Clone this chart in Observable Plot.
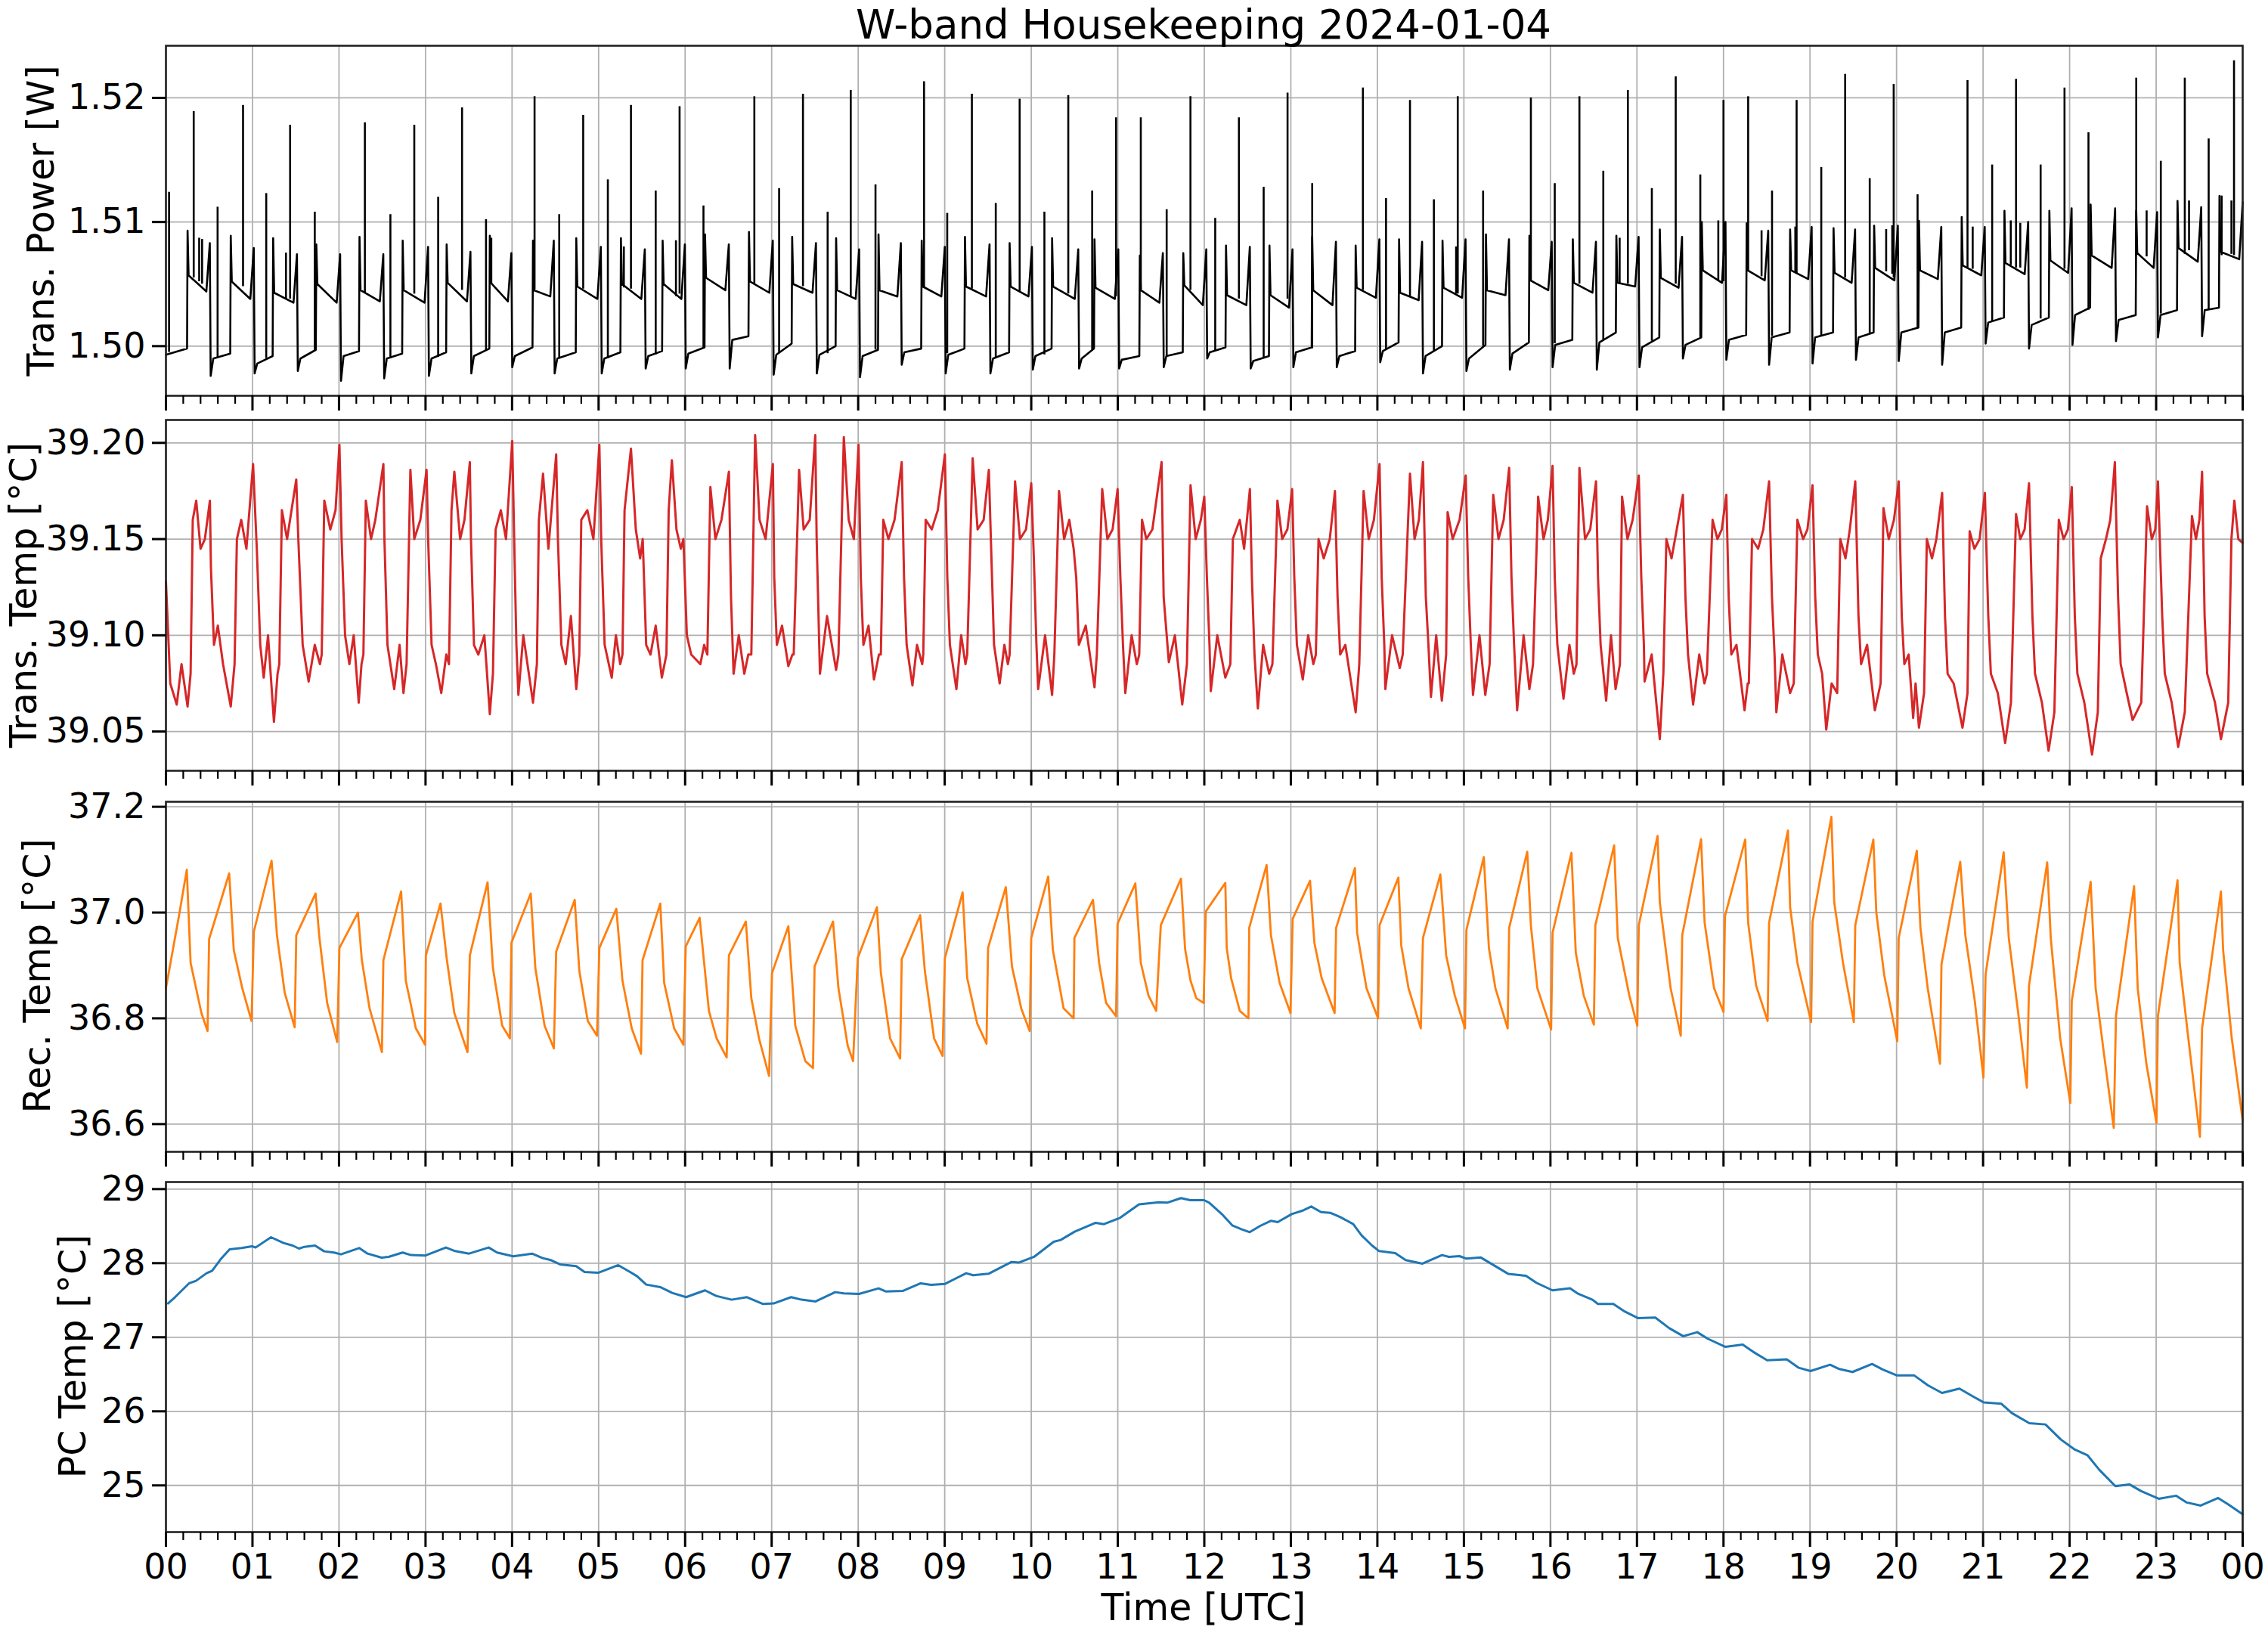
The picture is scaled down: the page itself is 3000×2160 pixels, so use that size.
<!DOCTYPE html>
<html><head><meta charset="utf-8">
<script src="https://cdn.jsdelivr.net/npm/d3@7"></script>
<script src="https://cdn.jsdelivr.net/npm/@observablehq/plot@0.6"></script>
<style>
html,body{margin:0;padding:0;background:#fff;}
#fig{position:relative;width:3000px;height:2160px;background:#fff;overflow:hidden;}
#fig svg{position:absolute;left:0;}
</style></head><body><div id="fig"></div>
<script>
// ---------- axis ticks ----------
const xTickValues = [0,1,2,3,4,5,6,7,8,9,10,11,12,13,14,15,16,17,18,19,20,21,22,23,24];
const xTickLabels = ["00","01","02","03","04","05","06","07","08","09","10","11","12","13","14","15","16","17","18","19","20","21","22","23","00"];
const xMinorStep = 0.2;
const pwTicks = [1.50, 1.51, 1.52], pwTickLabels = ["1.50","1.51","1.52"];
const ttTicks = [39.05, 39.10, 39.15, 39.20], ttTickLabels = ["39.05","39.10","39.15","39.20"];
const rtTicks = [36.6, 36.8, 37.0, 37.2], rtTickLabels = ["36.6","36.8","37.0","37.2"];
const pcTicks = [25, 26, 27, 28, 29], pcTickLabels = ["25","26","27","28","29"];

// ---------- Trans. Power [W] : per-cycle levels ----------
const pwStartV = 1.4993, pwEndV = 1.5116;
const pwStepT = [0.250,0.749,1.239,1.738,2.237,2.736,3.244,3.743,4.242,4.742,5.258,5.740,6.230,6.738,7.237,7.745,8.235,8.734,9.234,9.750,10.241,10.731,11.255,11.757,12.251,12.753,13.247,13.749,14.251,14.753,15.255,15.757,16.259,16.762,17.264,17.749,18.268,18.770,19.272,19.741,20.259,20.753,21.247,21.766,22.243,22.770,23.247,23.732];
const pwStepV = [1.5093,1.5089,1.5087,1.5082,1.5088,1.5085,1.5082,1.5089,1.5085,1.5087,1.5087,1.5085,1.5090,1.5092,1.5088,1.5087,1.5090,1.5085,1.5088,1.5083,1.5087,1.5086,1.5073,1.5075,1.5081,1.5081,1.5088,1.5081,1.5086,1.5085,1.5090,1.5089,1.5086,1.5089,1.5094,1.5100,1.5099,1.5094,1.5095,1.5097,1.5101,1.5104,1.5109,1.5109,1.5114,1.5109,1.5117,1.5121];
const pwPlatA = [1.5057,1.5052,1.5043,1.5050,1.5045,1.5045,1.5051,1.5051,1.5045,1.5048,1.5050,1.5050,1.5055,1.5052,1.5050,1.5045,1.5045,1.5048,1.5048,1.5048,1.5048,1.5047,1.5045,1.5049,1.5041,1.5041,1.5045,1.5047,1.5043,1.5047,1.5045,1.5053,1.5051,1.5051,1.5055,1.5061,1.5061,1.5061,1.5059,1.5063,1.5061,1.5065,1.5067,1.5069,1.5073,1.5075,1.5079,1.5076];
const pwPlatB = [1.5044,1.5038,1.5035,1.5035,1.5036,1.5035,1.5036,1.5036,1.5040,1.5038,1.5038,1.5038,1.5045,1.5043,1.5043,1.5038,1.5040,1.5040,1.5040,1.5040,1.5038,1.5038,1.5035,1.5033,1.5033,1.5031,1.5033,1.5039,1.5037,1.5039,1.5041,1.5045,1.5043,1.5048,1.5047,1.5051,1.5053,1.5054,1.5051,1.5053,1.5054,1.5057,1.5058,1.5059,1.5063,1.5063,1.5068,1.5070];
const pwDropT = [0.517,1.025,1.524,2.023,2.522,3.039,3.529,4.002,4.492,5.036,5.544,6.007,6.515,7.023,7.522,8.021,8.503,9.011,9.528,10.018,10.553,11.016,11.531,12.033,12.536,13.029,13.531,14.033,14.527,15.029,15.531,16.025,16.536,17.029,17.531,18.033,18.527,19.029,19.531,20.025,20.527,21.029,21.531,22.033,22.536,23.021,23.531];
const pwRampV = [1.5083,1.5079,1.5074,1.5074,1.5074,1.5080,1.5076,1.5075,1.5085,1.5080,1.5078,1.5082,1.5082,1.5085,1.5083,1.5078,1.5083,1.5080,1.5082,1.5080,1.5078,1.5078,1.5075,1.5078,1.5080,1.5078,1.5084,1.5086,1.5084,1.5086,1.5086,1.5084,1.5084,1.5088,1.5088,1.5100,1.5093,1.5096,1.5094,1.5097,1.5096,1.5096,1.5100,1.5111,1.5111,1.5108,1.5112];
const pwDipV = [1.4976,1.4978,1.4980,1.4972,1.4974,1.4976,1.4978,1.4983,1.4978,1.4978,1.4982,1.4982,1.4982,1.4977,1.4978,1.4975,1.4985,1.4978,1.4978,1.4981,1.4982,1.4982,1.4983,1.4990,1.4982,1.4983,1.4983,1.4987,1.4978,1.4980,1.4981,1.4983,1.4981,1.4983,1.4990,1.4989,1.4985,1.4986,1.4989,1.4988,1.4985,1.5002,1.4998,1.5001,1.5004,1.5007,1.5008];
const pwLowA = [1.4990,1.4986,1.4990,1.4992,1.4990,1.4990,1.4992,1.4992,1.4990,1.4990,1.4992,1.4994,1.5005,1.4993,1.4993,1.4992,1.4995,1.4993,1.4990,1.4992,1.4990,1.4989,1.4992,1.4995,1.4988,1.4995,1.4992,1.4996,1.4992,1.4990,1.4994,1.5001,1.5003,1.4999,1.5001,1.5005,1.5007,1.5007,1.5007,1.5011,1.5011,1.5019,1.5017,1.5025,1.5021,1.5025,1.5029];
const pwLowB = [1.4998,1.4994,1.4992,1.4997,1.4996,1.4994,1.4995,1.4998,1.4999,1.4995,1.4995,1.4996,1.4999,1.5008,1.5002,1.5000,1.4997,1.4998,1.4998,1.4995,1.4998,1.4998,1.4992,1.4995,1.4999,1.4992,1.4999,1.4996,1.5003,1.5000,1.5001,1.5003,1.5005,1.5011,1.5007,1.5007,1.5009,1.5011,1.5011,1.5011,1.5015,1.5015,1.5023,1.5023,1.5031,1.5025,1.5029,1.5031];
// spikes: [time, peak, base]
const pwSpikes = [
 [0.036,1.5124,1.4995],[0.321,1.5189,1.5055],[0.384,1.5087,1.5052],[0.418,1.5086,1.5050],[0.597,1.5112,1.4991],[0.891,1.5194,1.5048],
 [1.159,1.5123,1.4990],[1.387,1.5075,1.5038],[1.435,1.5178,1.5038],[1.720,1.5108,1.4996],[2.299,1.5180,1.5043],[2.594,1.5106,1.4990],
 [2.870,1.5178,1.5042],[3.146,1.5120,1.4991],[3.422,1.5192,1.5045],[3.699,1.5102,1.4996],[3.760,1.5087,1.5050],[4.260,1.5201,1.5045],
 [4.545,1.5106,1.4990],[4.822,1.5186,1.5046],[5.107,1.5134,1.4990],[5.292,1.5080,1.5047],[5.374,1.5194,1.5046],[5.660,1.5125,1.4993],
 [5.894,1.5085,1.5040],[5.936,1.5193,1.5042],[6.212,1.5113,1.4999],[6.800,1.5201,1.5050],[7.086,1.5127,1.4994],[7.362,1.5203,1.5048],
 [7.647,1.5108,1.4994],[7.914,1.5206,1.5040],[8.200,1.5130,1.4997],[8.761,1.5213,1.5047],[9.029,1.5107,1.4994],[9.314,1.5203,1.5046],
 [9.590,1.5115,1.4991],[9.866,1.5199,1.5044],[10.152,1.5108,1.4993],[10.428,1.5202,1.5042],[10.704,1.5125,1.4997],[10.980,1.5184,1.5040],
 [11.266,1.5184,1.5045],[11.565,1.5110,1.4992],[11.840,1.5201,1.5045],[12.126,1.5103,1.4996],[12.400,1.5184,1.5038],[12.686,1.5128,1.4991],
 [12.962,1.5204,1.5038],[13.247,1.5131,1.4998],[13.833,1.5208,1.5045],[14.100,1.5119,1.4997],[14.377,1.5198,1.5040],[14.653,1.5118,1.4996],
 [14.910,1.5080,1.5042],[14.929,1.5201,1.5042],[15.222,1.5125,1.5000],[15.774,1.5200,1.5052],[16.050,1.5131,1.5002],[16.335,1.5201,1.5050],
 [16.611,1.5141,1.5005],[16.800,1.5087,1.5050],[16.895,1.5206,1.5050],[17.172,1.5127,1.5004],[17.448,1.5217,1.5050],[17.732,1.5138,1.5007],
 [17.940,1.5101,1.5053],[18.000,1.5198,1.5052],[18.285,1.5201,1.5060],[18.440,1.5093,1.5056],[18.561,1.5125,1.5008],[18.830,1.5096,1.5059],
 [18.845,1.5198,1.5058],[19.130,1.5144,1.5008],[19.406,1.5219,1.5055],[19.690,1.5135,1.5010],[19.880,1.5094,1.5060],[19.950,1.5097,1.5058],
 [19.967,1.5211,1.5055],[20.243,1.5122,1.5014],[20.820,1.5214,1.5063],[20.880,1.5096,1.5062],[21.105,1.5146,1.5020],[21.320,1.5101,1.5065],
 [21.381,1.5215,1.5063],[21.430,1.5099,1.5063],[21.665,1.5146,1.5022],[21.941,1.5208,1.5062],[22.218,1.5172,1.5029],[22.770,1.5216,1.5073],
 [22.890,1.5109,1.5072],[23.054,1.5149,1.5026],[23.331,1.5216,1.5074],[23.380,1.5117,1.5077],[23.607,1.5167,1.5029],[23.757,1.5121,1.5073],
 [23.870,1.5117,1.5074],[23.900,1.5230,1.5073]
];

// ---------- Trans. Temp [°C] : [hour, value] ----------
const ttPts = [
 [0,39.128],[0.05,39.075],[0.125,39.064],[0.18,39.085],[0.25,39.063],
 [0.285,39.080],[0.31,39.160],[0.35,39.170],[0.40,39.145],[0.45,39.150],[0.508,39.170],[0.52,39.135],[0.555,39.095],[0.60,39.105],[0.66,39.085],[0.749,39.063],
 [0.793,39.085],[0.82,39.150],[0.87,39.160],[0.93,39.145],[1.007,39.189],[1.05,39.145],[1.09,39.095],[1.13,39.078],[1.18,39.100],[1.248,39.055],[1.29,39.080],
 [1.310,39.085],[1.34,39.165],[1.40,39.150],[1.506,39.181],[1.53,39.150],[1.58,39.095],[1.649,39.076],[1.72,39.095],[1.78,39.085],
 [1.800,39.090],[1.83,39.170],[1.90,39.155],[1.96,39.165],[2.005,39.199],[2.03,39.150],[2.07,39.100],[2.12,39.085],[2.17,39.100],[2.228,39.065],[2.26,39.085],
 [2.282,39.090],[2.31,39.170],[2.37,39.150],[2.42,39.160],[2.513,39.189],[2.525,39.150],[2.56,39.095],[2.638,39.072],[2.70,39.095],[2.745,39.070],
 [2.781,39.085],[2.825,39.186],[2.87,39.150],[2.94,39.160],[3.012,39.186],[3.03,39.150],[3.07,39.095],[3.12,39.085],[3.182,39.070],[3.24,39.090],
 [3.271,39.085],[3.30,39.165],[3.333,39.185],[3.40,39.150],[3.45,39.160],[3.512,39.190],[3.525,39.150],[3.56,39.095],[3.61,39.090],[3.68,39.100],[3.743,39.059],
 [3.779,39.080],[3.81,39.155],[3.87,39.165],[3.93,39.150],[4.002,39.201],[4.02,39.160],[4.05,39.095],[4.073,39.069],[4.13,39.100],[4.242,39.065],
 [4.287,39.085],[4.31,39.160],[4.358,39.184],[4.42,39.145],[4.510,39.194],[4.53,39.150],[4.57,39.095],[4.62,39.085],[4.68,39.110],[4.742,39.072],
 [4.777,39.090],[4.80,39.160],[4.87,39.165],[4.94,39.150],[5.009,39.199],[5.03,39.150],[5.07,39.095],[5.152,39.078],[5.20,39.100],[5.25,39.085],
 [5.276,39.090],[5.30,39.165],[5.374,39.197],[5.43,39.155],[5.48,39.140],[5.51,39.150],[5.55,39.095],[5.60,39.090],[5.66,39.105],[5.731,39.078],
 [5.784,39.090],[5.81,39.165],[5.847,39.191],[5.90,39.155],[5.95,39.145],[5.98,39.150],[6.02,39.100],[6.07,39.090],[6.176,39.085],[6.22,39.095],
 [6.257,39.090],[6.292,39.177],[6.35,39.150],[6.42,39.160],[6.506,39.185],[6.53,39.120],[6.560,39.080],[6.62,39.100],[6.684,39.080],[6.73,39.090],
 [6.765,39.090],[6.809,39.204],[6.86,39.160],[6.93,39.150],[7.014,39.189],[7.03,39.130],[7.06,39.095],[7.12,39.105],[7.193,39.084],[7.24,39.090],
 [7.255,39.090],[7.317,39.186],[7.37,39.155],[7.44,39.160],[7.504,39.204],[7.52,39.150],[7.558,39.080],[7.64,39.110],[7.745,39.082],
 [7.772,39.090],[7.834,39.203],[7.89,39.160],[7.95,39.150],[8.004,39.199],[8.03,39.130],[8.06,39.095],[8.12,39.105],[8.182,39.077],[8.24,39.090],
 [8.262,39.090],[8.29,39.160],[8.35,39.150],[8.42,39.160],[8.503,39.190],[8.53,39.130],[8.56,39.095],[8.627,39.074],[8.68,39.095],[8.74,39.085],
 [8.752,39.090],[8.78,39.160],[8.85,39.155],[8.92,39.165],[9.002,39.194],[9.03,39.130],[9.06,39.095],[9.135,39.072],[9.19,39.100],[9.24,39.085],
 [9.260,39.090],[9.323,39.192],[9.38,39.155],[9.45,39.160],[9.51,39.186],[9.54,39.140],[9.57,39.095],[9.635,39.075],[9.69,39.095],[9.73,39.085],
 [9.750,39.090],[9.813,39.180],[9.87,39.150],[9.94,39.155],[10.00,39.179],[10.03,39.140],[10.06,39.095],[10.08,39.072],[10.16,39.100],[10.241,39.069],
 [10.267,39.090],[10.321,39.175],[10.38,39.150],[10.44,39.160],[10.49,39.145],[10.52,39.130],[10.55,39.095],[10.63,39.105],[10.731,39.073],
 [10.758,39.090],[10.820,39.176],[10.88,39.150],[10.94,39.155],[10.998,39.176],[11.03,39.130],[11.06,39.095],[11.087,39.070],[11.16,39.100],[11.22,39.085],
 [11.248,39.090],[11.28,39.160],[11.33,39.150],[11.40,39.155],[11.506,39.190],[11.53,39.120],[11.59,39.086],[11.66,39.100],[11.745,39.064],
 [11.799,39.085],[11.841,39.178],[11.90,39.150],[11.96,39.160],[12.00,39.172],[12.03,39.130],[12.06,39.095],[12.075,39.071],[12.15,39.100],[12.243,39.078],
 [12.301,39.085],[12.33,39.150],[12.410,39.160],[12.46,39.145],[12.527,39.176],[12.55,39.130],[12.58,39.090],[12.619,39.062],[12.68,39.095],[12.75,39.080],
 [12.787,39.085],[12.845,39.170],[12.90,39.150],[12.96,39.155],[13.015,39.176],[13.04,39.130],[13.07,39.095],[13.138,39.077],[13.20,39.100],[13.26,39.085],
 [13.289,39.090],[13.32,39.150],[13.38,39.140],[13.45,39.150],[13.51,39.175],[13.54,39.120],[13.57,39.090],[13.63,39.095],[13.749,39.060],
 [13.791,39.085],[13.841,39.175],[13.90,39.150],[13.96,39.160],[14.025,39.189],[14.05,39.130],[14.08,39.095],[14.092,39.072],[14.17,39.100],[14.259,39.083],
 [14.293,39.090],[14.377,39.184],[14.43,39.150],[14.48,39.160],[14.527,39.190],[14.56,39.120],[14.59,39.095],[14.619,39.068],[14.68,39.100],[14.745,39.066],
 [14.795,39.090],[14.812,39.164],[14.87,39.150],[14.95,39.160],[15.021,39.183],[15.05,39.130],[15.08,39.095],[15.105,39.069],[15.18,39.100],[15.247,39.069],
 [15.297,39.085],[15.339,39.173],[15.40,39.150],[15.46,39.160],[15.523,39.187],[15.55,39.130],[15.58,39.095],[15.615,39.061],[15.69,39.100],[15.757,39.072],
 [15.799,39.085],[15.858,39.172],[15.92,39.150],[15.97,39.160],[16.025,39.188],[16.05,39.130],[16.08,39.095],[16.151,39.067],[16.22,39.095],[16.27,39.080],
 [16.301,39.085],[16.335,39.187],[16.40,39.150],[16.46,39.155],[16.527,39.180],[16.55,39.130],[16.58,39.095],[16.644,39.066],[16.70,39.100],[16.753,39.072],
 [16.803,39.085],[16.828,39.172],[16.89,39.150],[16.95,39.160],[17.021,39.183],[17.05,39.130],[17.08,39.095],[17.088,39.076],[17.17,39.090],[17.264,39.046],
 [17.305,39.080],[17.34,39.150],[17.40,39.140],[17.46,39.155],[17.531,39.173],[17.56,39.120],[17.59,39.090],[17.649,39.064],[17.72,39.090],[17.78,39.075],
 [17.808,39.080],[17.874,39.160],[17.93,39.150],[17.98,39.155],[18.033,39.173],[18.06,39.120],[18.09,39.090],[18.15,39.095],[18.243,39.061],[18.28,39.075],
 [18.293,39.075],[18.33,39.150],[18.40,39.145],[18.46,39.155],[18.527,39.180],[18.56,39.120],[18.59,39.090],[18.611,39.060],[18.68,39.090],[18.77,39.070],
 [18.812,39.075],[18.854,39.160],[18.92,39.150],[18.97,39.155],[19.029,39.178],[19.06,39.120],[19.09,39.090],[19.14,39.080],[19.188,39.051],[19.25,39.075],
 [19.314,39.070],[19.35,39.150],[19.41,39.140],[19.46,39.155],[19.523,39.180],[19.56,39.110],[19.59,39.085],[19.66,39.095],[19.749,39.061],
 [19.816,39.075],[19.849,39.166],[19.91,39.150],[19.97,39.160],[20.025,39.180],[20.06,39.110],[20.09,39.085],[20.14,39.090],[20.192,39.057],[20.22,39.075],[20.259,39.052],
 [20.318,39.070],[20.35,39.150],[20.41,39.140],[20.46,39.150],[20.527,39.174],[20.56,39.110],[20.59,39.080],[20.66,39.075],[20.762,39.052],
 [20.820,39.070],[20.845,39.154],[20.90,39.145],[20.96,39.150],[21.021,39.174],[21.06,39.110],[21.09,39.080],[21.17,39.070],[21.255,39.044],
 [21.322,39.065],[21.381,39.163],[21.43,39.150],[21.48,39.155],[21.531,39.179],[21.57,39.110],[21.60,39.080],[21.68,39.065],[21.757,39.040],
 [21.824,39.060],[21.875,39.160],[21.93,39.150],[21.98,39.155],[22.025,39.177],[22.06,39.110],[22.09,39.080],[22.17,39.065],[22.259,39.038],
 [22.326,39.060],[22.36,39.140],[22.42,39.150],[22.47,39.160],[22.523,39.190],[22.56,39.120],[22.59,39.085],[22.66,39.070],[22.728,39.056],
 [22.828,39.065],[22.895,39.167],[22.95,39.150],[22.99,39.155],[23.021,39.180],[23.07,39.110],[23.10,39.080],[23.18,39.065],[23.255,39.042],
 [23.331,39.060],[23.414,39.162],[23.46,39.150],[23.50,39.160],[23.531,39.185],[23.56,39.110],[23.59,39.080],[23.68,39.065],[23.749,39.046],
 [23.833,39.065],[23.87,39.150],[23.904,39.170],[23.95,39.150],[24.0,39.148]
];

// ---------- Rec. Temp [°C] : [hour, value] ----------
const rtPts = [
 [0.0,36.857],[0.152,36.995],[0.241,37.081],[0.285,36.905],[0.348,36.857],[0.410,36.810],[0.481,36.776],
 [0.499,36.950],[0.731,37.074],[0.784,36.929],[0.882,36.857],[0.989,36.795],
 [1.016,36.964],[1.221,37.098],[1.283,36.957],[1.373,36.848],[1.488,36.783],
 [1.506,36.957],[1.729,37.036],[1.774,36.952],[1.863,36.829],[1.979,36.755],
 [2.005,36.933],[2.219,37.000],[2.264,36.910],[2.353,36.819],[2.496,36.736],
 [2.513,36.910],[2.718,37.040],[2.772,36.871],[2.888,36.781],[2.995,36.750],
 [3.004,36.919],[3.173,37.017],[3.244,36.914],[3.333,36.810],[3.485,36.736],
 [3.512,36.919],[3.717,37.057],[3.779,36.895],[3.886,36.786],[3.975,36.762],
 [3.993,36.943],[4.216,37.036],[4.269,36.895],[4.376,36.786],[4.483,36.743],
 [4.510,36.926],[4.724,37.024],[4.777,36.890],[4.875,36.795],[4.982,36.767],
 [5.009,36.933],[5.205,37.007],[5.276,36.871],[5.383,36.781],[5.490,36.733],
 [5.508,36.910],[5.713,37.017],[5.758,36.867],[5.873,36.781],[5.980,36.750],
 [6.007,36.936],[6.168,36.990],[6.275,36.814],[6.364,36.762],[6.480,36.726],
 [6.506,36.919],[6.702,36.983],[6.765,36.838],[6.854,36.762],[6.970,36.691],
 [7.005,36.886],[7.193,36.974],[7.273,36.786],[7.389,36.719],[7.478,36.706],
 [7.496,36.898],[7.709,36.983],[7.772,36.857],[7.879,36.748],[7.941,36.719],
 [7.995,36.914],[8.217,37.010],[8.262,36.886],[8.369,36.762],[8.485,36.724],
 [8.503,36.912],[8.717,36.995],[8.770,36.890],[8.877,36.762],[8.975,36.729],
 [9.002,36.914],[9.207,37.038],[9.260,36.876],[9.376,36.790],[9.483,36.752],
 [9.501,36.933],[9.706,37.048],[9.777,36.898],[9.884,36.819],[9.982,36.776],
 [10.000,36.952],[10.196,37.068],[10.250,36.929],[10.374,36.819],[10.490,36.800],
 [10.499,36.952],[10.713,37.024],[10.784,36.905],[10.865,36.829],[10.980,36.804],
 [10.998,36.979],[11.203,37.055],[11.266,36.905],[11.355,36.843],[11.444,36.814],
 [11.497,36.976],[11.730,37.064],[11.778,36.931],[11.841,36.871],[11.908,36.838],[11.992,36.829],
 [12.017,37.002],[12.243,37.056],[12.259,36.933],[12.310,36.876],[12.410,36.814],[12.510,36.800],
 [12.519,36.971],[12.720,37.090],[12.770,36.957],[12.870,36.867],[12.996,36.810],
 [13.021,36.988],[13.222,37.060],[13.272,36.943],[13.356,36.876],[13.506,36.810],
 [13.523,36.971],[13.741,37.084],[13.766,36.962],[13.874,36.857],[14.008,36.800],
 [14.025,36.976],[14.243,37.066],[14.276,36.938],[14.360,36.857],[14.502,36.781],
 [14.527,36.952],[14.728,37.072],[14.795,36.919],[14.895,36.843],[15.013,36.781],
 [15.029,36.967],[15.230,37.105],[15.289,36.933],[15.364,36.857],[15.506,36.781],
 [15.523,36.971],[15.732,37.115],[15.774,36.976],[15.849,36.857],[16.008,36.779],
 [16.025,36.962],[16.243,37.113],[16.293,36.924],[16.385,36.843],[16.502,36.788],
 [16.519,36.976],[16.736,37.127],[16.778,36.952],[16.912,36.843],[17.004,36.786],
 [17.021,36.976],[17.238,37.145],[17.264,37.019],[17.389,36.857],[17.506,36.767],
 [17.523,36.957],[17.741,37.139],[17.782,36.981],[17.891,36.857],[18.000,36.812],
 [18.017,36.993],[18.251,37.138],[18.285,36.981],[18.377,36.862],[18.510,36.795],
 [18.527,36.981],[18.745,37.155],[18.770,37.010],[18.854,36.905],[19.013,36.793],
 [19.029,36.983],[19.247,37.181],[19.280,37.019],[19.381,36.905],[19.506,36.793],
 [19.523,36.976],[19.732,37.138],[19.766,37.000],[19.858,36.881],[20.008,36.757],
 [20.025,36.952],[20.234,37.117],[20.276,36.971],[20.360,36.857],[20.502,36.714],
 [20.519,36.902],[20.736,37.096],[20.795,36.957],[20.904,36.833],[21.004,36.688],
 [21.029,36.883],[21.238,37.114],[21.297,36.952],[21.406,36.810],[21.506,36.669],
 [21.531,36.862],[21.741,37.095],[21.782,36.952],[21.891,36.762],[22.008,36.640],
 [22.025,36.833],[22.243,37.058],[22.301,36.857],[22.393,36.738],[22.510,36.593],
 [22.536,36.805],[22.745,37.050],[22.787,36.857],[22.887,36.714],[23.004,36.602],
 [23.021,36.805],[23.247,37.061],[23.272,36.905],[23.372,36.762],[23.506,36.576],
 [23.531,36.781],[23.749,37.040],[23.774,36.929],[23.874,36.762],[24.000,36.607]
];

// ---------- PC Temp [°C] ----------
const pcT = [0.024,0.105,0.267,0.348,0.469,0.534,0.631,0.736,0.874,0.995,1.036,1.214,1.359,1.464,1.537,1.602,1.723,1.828,1.942,2.023,2.233,2.330,2.492,2.573,2.735,2.832,2.994,3.236,3.341,3.503,3.730,3.827,4.013,4.231,4.353,4.450,4.555,4.741,4.838,5.000,5.227,5.364,5.445,5.550,5.712,5.850,6.011,6.230,6.359,6.537,6.715,6.901,7.023,7.225,7.346,7.508,7.735,7.832,8.010,8.236,8.317,8.519,8.722,8.843,9.005,9.248,9.328,9.506,9.773,9.854,10.032,10.259,10.340,10.502,10.744,10.841,11.027,11.246,11.351,11.472,11.570,11.731,11.837,11.998,12.057,12.202,12.323,12.428,12.525,12.646,12.768,12.848,13.010,13.131,13.236,13.349,13.455,13.576,13.721,13.818,13.939,14.020,14.206,14.327,14.521,14.747,14.828,14.949,15.030,15.192,15.354,15.515,15.717,15.838,16.024,16.226,16.323,16.485,16.549,16.727,16.848,17.010,17.212,17.374,17.535,17.697,17.818,18.020,18.222,18.343,18.505,18.731,18.869,19.006,19.232,19.337,19.491,19.717,19.838,20.000,20.202,20.364,20.525,20.727,20.889,21.010,21.212,21.333,21.535,21.721,21.899,22.061,22.206,22.343,22.529,22.691,22.828,23.030,23.232,23.354,23.515,23.717,23.838,24.000];
const pcV = [27.456,27.541,27.728,27.762,27.864,27.898,28.051,28.187,28.204,28.228,28.211,28.350,28.272,28.238,28.197,28.221,28.238,28.160,28.143,28.119,28.204,28.129,28.075,28.085,28.143,28.109,28.102,28.211,28.163,28.129,28.211,28.143,28.092,28.129,28.068,28.041,27.983,27.959,27.881,27.871,27.973,27.881,27.823,27.711,27.677,27.599,27.541,27.633,27.558,27.507,27.541,27.449,27.456,27.541,27.507,27.483,27.609,27.592,27.585,27.660,27.619,27.626,27.728,27.707,27.721,27.864,27.837,27.857,28.017,28.007,28.085,28.289,28.313,28.425,28.544,28.527,28.612,28.793,28.806,28.823,28.816,28.878,28.850,28.850,28.816,28.663,28.510,28.459,28.418,28.503,28.571,28.554,28.663,28.707,28.765,28.690,28.680,28.619,28.527,28.374,28.238,28.163,28.136,28.041,27.993,28.109,28.085,28.095,28.061,28.078,27.966,27.854,27.830,27.735,27.633,27.660,27.585,27.507,27.449,27.449,27.354,27.259,27.265,27.122,27.014,27.068,26.980,26.871,26.901,26.803,26.690,26.701,26.588,26.544,26.629,26.571,26.531,26.639,26.565,26.486,26.486,26.350,26.248,26.306,26.197,26.119,26.102,25.976,25.840,25.823,25.619,25.483,25.408,25.211,24.990,25.014,24.922,24.820,24.861,24.769,24.728,24.830,24.741,24.609];

// ---------- build tables ----------
const pwPts = [[0, pwStartV]];
for (let i = 0; i < pwStepT.length; i++) {
  pwPts.push([pwStepT[i] - 0.006, pwLowB[i]]);
  pwPts.push([pwStepT[i], pwStepV[i]]);
  pwPts.push([pwStepT[i] + 0.012, pwPlatA[i]]);
  if (i < pwDropT.length) {
    pwPts.push([pwDropT[i] - 0.05, pwPlatB[i]]);
    pwPts.push([pwDropT[i] - 0.01, pwRampV[i]]);
    pwPts.push([pwDropT[i], pwDipV[i]]);
    pwPts.push([pwDropT[i] + 0.03, pwLowA[i]]);
  } else {
    pwPts.push([23.96, pwPlatB[i]]);
    pwPts.push([24, pwEndV]);
  }
}
const nPc = Math.min(pcT.length, pcV.length);
const pcPts = d3.range(nPc).map(i => [pcT[i], pcV[i]]);
const xMinor = d3.range(0, 24.0001, xMinorStep).filter(v => Math.abs(v - Math.round(v)) > 1e-6);

const fig = document.getElementById("fig");
const FONT = "DejaVu Sans";

function panel({pts, color, width, yDomain, yTicks, yLabels, frameTop, frameH, xLabels, extra = []}) {
  const mt = 20, mb = xLabels ? 120 : 40;
  const svg = Plot.plot({
    width: 3000, height: mt + frameH + mb,
    marginLeft: 219, marginRight: 34, marginTop: mt, marginBottom: mb,
    style: {fontFamily: FONT, fontSize: "46px", color: "#000", background: "transparent", overflow: "visible"},
    x: {domain: [0, 24]},
    y: {domain: yDomain},
    marks: [
      Plot.gridX(xTickValues, {stroke: "#b0b0b0", strokeOpacity: 1, strokeWidth: 1.8}),
      Plot.gridY(yTicks, {stroke: "#b0b0b0", strokeOpacity: 1, strokeWidth: 1.8}),
      Plot.line(pts, {x: d => d[0], y: d => d[1], stroke: color, strokeWidth: width}),
      ...extra,
      Plot.frame({stroke: "#222", strokeWidth: 2.6}),
      Plot.axisY(yTicks, {tickSize: 18, tickPadding: 9, strokeWidth: 3, fontSize: 46, label: null,
        tickFormat: d => yLabels[yTicks.indexOf(d)]}),
      Plot.axisX(xMinor, {tickSize: 11, strokeWidth: 2.2, tickFormat: () => "", label: null}),
      Plot.axisX(xTickValues, {tickSize: 20, tickPadding: 9, strokeWidth: 3, fontSize: 46, label: null,
        tickFormat: xLabels ? (d => xTickLabels[Math.round(d)]) : (() => "")})
    ]
  });
  svg.style.top = (frameTop - mt) + "px";
  fig.appendChild(svg);
}

panel({pts: pwPts, color: "#000000", width: 2.6, yDomain: [1.4960, 1.5242], yTicks: pwTicks, yLabels: pwTickLabels,
  frameTop: 60, frameH: 463, xLabels: false,
  extra: [Plot.ruleX(pwSpikes, {x: d => d[0], y1: d => d[2], y2: d => d[1], stroke: "#000", strokeWidth: 2.6})]});
panel({pts: ttPts, color: "#d62728", width: 3, yDomain: [39.0296, 39.2119], yTicks: ttTicks, yLabels: ttTickLabels,
  frameTop: 555, frameH: 464, xLabels: false});
panel({pts: rtPts, color: "#ff7f0e", width: 2.8, yDomain: [36.5476, 37.2095], yTicks: rtTicks, yLabels: rtTickLabels,
  frameTop: 1060, frameH: 463, xLabels: false});
panel({pts: pcPts, color: "#1f77b4", width: 3, yDomain: [24.37, 29.095], yTicks: pcTicks, yLabels: pcTickLabels,
  frameTop: 1563, frameH: 463, xLabels: true});

// ---------- titles and axis labels ----------
const ov = d3.select(fig).append("svg").attr("width", 3000).attr("height", 2160)
  .style("top", "0px").style("pointer-events", "none").style("font-family", FONT);
ov.append("text").attr("x", 1592).attr("y", 51).attr("text-anchor", "middle")
  .attr("font-size", 53).attr("fill", "#000").text("W-band Housekeeping 2024-01-04");
ov.append("text").attr("x", 1592).attr("y", 2143).attr("text-anchor", "middle")
  .attr("font-size", 49).attr("fill", "#000").text("Time [UTC]");
const yLabs = [["Trans. Power [W]", 71, 292], ["Trans. Temp [°C]", 48, 787], ["Rec. Temp [°C]", 66, 1291], ["PC Temp [°C]", 113, 1794]];
yLabs.forEach(([t, x, y]) => {
  ov.append("text").attr("transform", `translate(${x},${y}) rotate(-90)`).attr("text-anchor", "middle")
    .attr("font-size", 49).attr("fill", "#000").text(t);
});
</script>
</body></html>
